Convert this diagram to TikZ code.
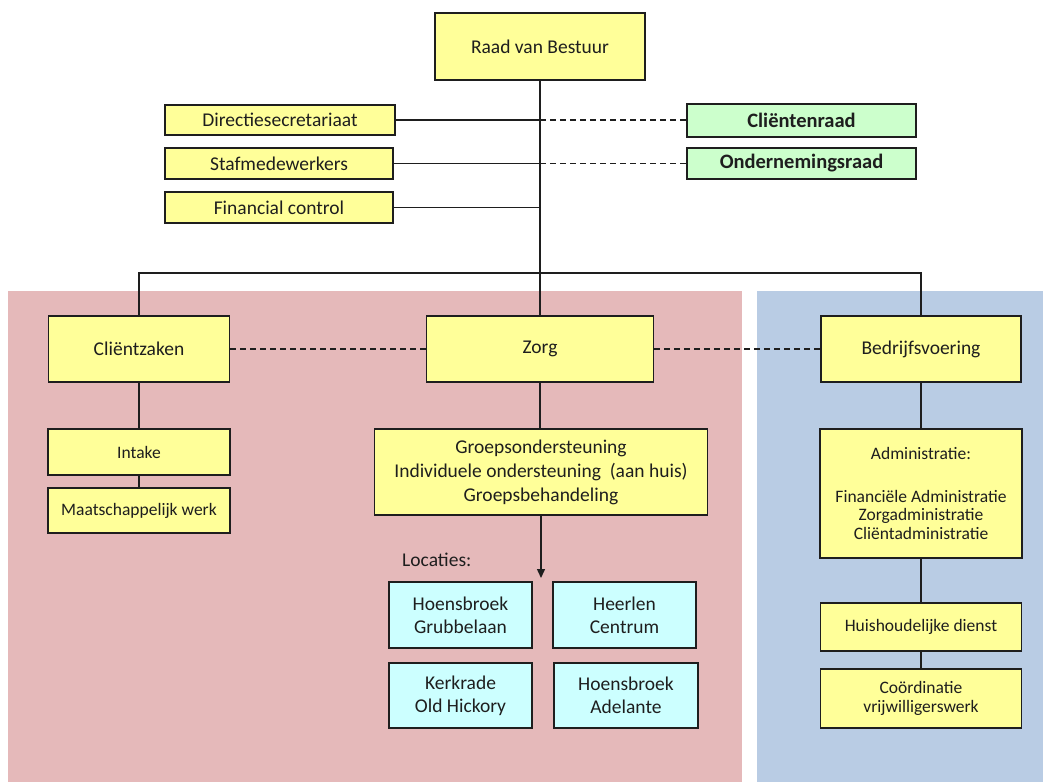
\documentclass[tikz,border=0pt]{standalone}
\usepackage{fontspec}
\setmainfont{Carlito}
\usetikzlibrary{arrows.meta}
\definecolor{boxyellow}{RGB}{255,255,153}
\definecolor{boxgreen}{RGB}{204,255,204}
\definecolor{boxcyan}{RGB}{204,255,255}
\definecolor{regpink}{RGB}{229,185,186}
\definecolor{regblue}{RGB}{185,204,228}
\definecolor{ink}{RGB}{30,30,30}
\begin{document}
\begin{tikzpicture}[x=1pt,y=-1pt,
  base/.style={draw=ink, line width=1.4pt, inner sep=0pt, align=center, text=ink,
     font=\fontsize{19.5}{24}\selectfont},
  ybox/.style={base, fill=boxyellow},
  gbox/.style={base, fill=boxgreen, font=\fontsize{20.5}{22}\selectfont\bfseries},
  cbox/.style={base, fill=boxcyan, font=\fontsize{19.5}{23}\selectfont},
  small/.style={font=\fontsize{17.5}{18.5}\selectfont},
  conn/.style={draw=ink, line width=1.4pt},
  dconn/.style={conn, dash pattern=on 6pt off 4pt},
  sz/.style 2 args={minimum width=#1pt, minimum height=#2pt}
]
\useasboundingbox (0,0) rectangle (1043,782);
% regions
\fill[regpink] (8,291) rectangle (742,782);
\fill[regblue] (757,291) rectangle (1043,782);

% top
\node[ybox, sz={210}{67}] (rvb) at (540,46.5) {Raad van Bestuur};
\node[ybox, sz={230}{30}] (dir) at (280,120) {Directiesecretariaat};
\node[ybox, sz={228}{31}] (staf) at (279,163.5) {Stafmedewerkers};
\node[ybox, sz={228}{31}] (fin) at (279,207.5) {Financial control};
\node[gbox, sz={229}{33}] (cr) at (801.5,120.5) {Cliëntenraad};
\node[gbox, sz={229}{31}] (or) at (801.5,163.5) {Ondernemingsraad};

% second level
\node[ybox, sz={181}{66}] (cz) at (139,349) {Cliëntzaken};
\node[ybox, sz={227}{66}] (zorg) at (540,349) {Zorg};
\node[ybox, sz={200}{66}] (bv) at (921,349) {Bedrijfsvoering};

% Clientzaken column
\node[ybox, small, sz={182}{46}] (intake) at (139,452) {Intake};
\node[ybox, small, sz={182}{45}] (mw) at (139,510.5) {Maatschappelijk werk};

% Zorg column
\node[ybox, sz={333}{86}] (groep) at (541,472) {Groepsondersteuning\\Individuele ondersteuning~~(aan huis)\\Groepsbehandeling};
\node[anchor=west, text=ink, inner sep=0pt, font=\fontsize{19.5}{24}\selectfont] (loc) at (402,560) {Locaties:};
\node[cbox, sz={143}{66}] (l1) at (460.5,615) {Hoensbroek\\Grubbelaan};
\node[cbox, sz={143}{66}] (l2) at (624.5,615) {Heerlen\\Centrum};
\node[cbox, sz={143}{65}] (l3) at (460.5,695.5) {Kerkrade\\Old Hickory};
\node[cbox, sz={144}{65}] (l4) at (626,695.5) {Hoensbroek\\Adelante};
\coordinate (loctip) at (541,578);

% Bedrijfsvoering column
\node[ybox, small, sz={202}{129}] (adm) at (921,493.5) {Administratie:\\[24pt]Financiële Administratie\\Zorgadministratie\\Cliëntadministratie};
\node[ybox, small, sz={201}{48}] (hh) at (921,627) {Huishoudelijke dienst};
\node[ybox, small, sz={201}{59}] (coord) at (921,698.5) {Coördinatie\\vrijwilligerswerk};

% connectors top
\coordinate (bus) at (540,273);
\path[conn] (rvb.south) -- (zorg.north);
\path[conn] (dir.east) -- (dir.east -| rvb.south);
\path[dconn] (dir.east -| rvb.south) -- (dir.east -| cr.west);
\path[conn] (staf.east) -- (staf.east -| rvb.south);
\path[dconn] (staf.east -| rvb.south) -- (staf.east -| or.west);
\path[conn] (fin.east) -- (fin.east -| rvb.south);
\path[conn] (cz.north) -- (cz.north |- bus) -- (bv.north |- bus) -- (bv.north);

% dashed between second level
\path[dconn] (cz.east) -- (zorg.west);
\path[dconn] (zorg.east) -- (bv.west);

% columns
\path[conn] (cz.south) -- (intake.north);
\path[conn] (intake.south) -- (mw.north);
\path[conn] (zorg.south) -- (zorg.south |- groep.north);
\path[conn, -{Triangle[length=9pt,width=8pt]}] (groep.south) -- (loctip);
\path[conn] (bv.south) -- (bv.south |- adm.north);
\path[conn] (adm.south) -- (adm.south |- hh.north);
\path[conn] (hh.south) -- (coord.north);
\end{tikzpicture}
\end{document}
